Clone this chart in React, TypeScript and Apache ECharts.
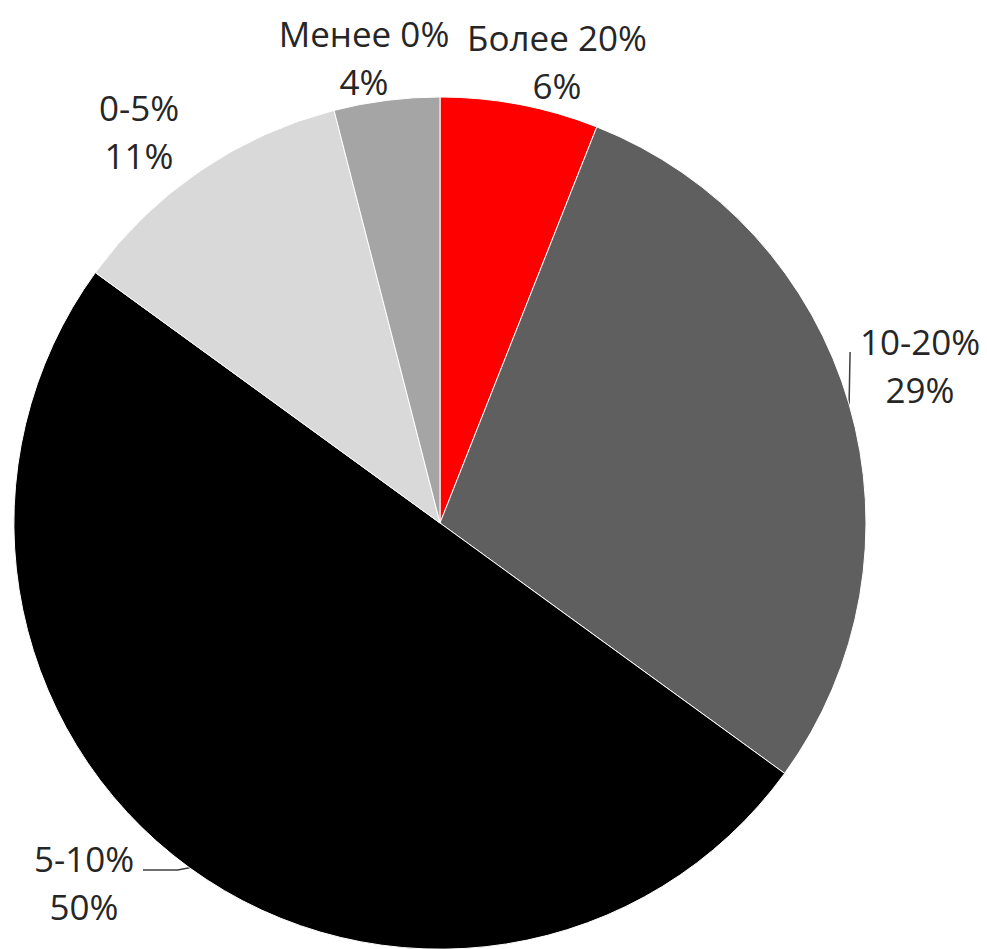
import React, { useEffect, useRef } from "react";
import * as echarts from "echarts";

const categories = ["Более 20%", "10-20%", "5-10%", "0-5%", "Менее 0%"];
const values = [6, 29, 50, 11, 4];
const colors = ["#ff0000", "#5f5f5f", "#000000", "#d9d9d9", "#a5a5a5"];
const withLeader = [false, true, true, false, false];

// label block centres (layout, not data)
const labelCentres: number[][] = [
  [557, 61],
  [920, 365],
  [84, 882],
  [139, 131],
  [364, 57],
];

export default function App() {
  const ref = useRef<HTMLDivElement>(null);
  useEffect(() => {
    if (!ref.current) return;
    const chart = echarts.init(ref.current, undefined, { renderer: "svg" });
    const option = {
      animation: false,
      backgroundColor: "#ffffff",
      series: [
        {
          type: "pie",
          center: [440, 523],
          radius: 426,
          startAngle: 90,
          clockwise: true,
          avoidLabelOverlap: false,
          itemStyle: { borderColor: "#ffffff", borderWidth: 1 },
          label: {
            show: true,
            position: "outside",
            formatter: "{b}\n{c}%",
            fontFamily: "Open Sans",
            fontSize: 35,
            lineHeight: 48,
            color: "#262626",
            align: "center",
          },
          labelLine: {
            show: true,
            length: 10,
            length2: 10,
            lineStyle: { color: "#404040", width: 1.5 },
          },
          labelLayout: (params: any) => {
            const i = params.dataIndex;
            const [cx, cy] = labelCentres[i];
            const res: any = { x: cx, y: cy, align: "center", verticalAlign: "middle" };
            const p0 = params.labelLinePoints ? params.labelLinePoints[0] : null;
            if (p0) {
              if (i === 1) {
                res.labelLinePoints = [p0, [p0[0] + 1, cy - 13], [p0[0] + 1, cy - 13]];
              } else if (i === 2) {
                res.labelLinePoints = [p0, [p0[0] - 12, cy - 12], [cx + 59, cy - 12]];
              }
            }
            return res;
          },
          emphasis: { disabled: true },
          data: categories.map((name, i) => ({
            name,
            value: values[i],
            itemStyle: { color: colors[i] },
            labelLine: { show: withLeader[i] },
          })),
        },
      ],
    };
    chart.setOption(option as any);
    return () => chart.dispose();
  }, []);
  return (
    <div
      ref={ref}
      style={{ position: "absolute", left: 0, top: 0, width: 987, height: 949 }}
    />
  );
}
